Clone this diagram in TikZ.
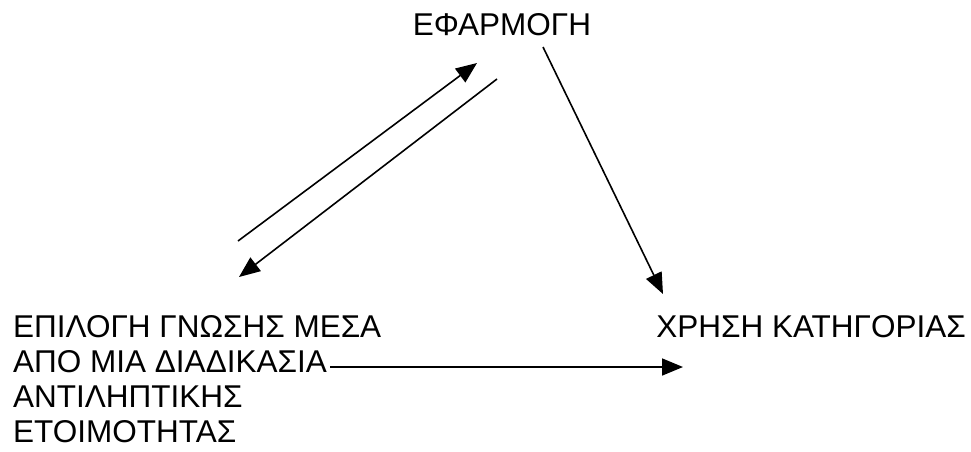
\documentclass[tikz,border=0pt]{standalone}
\usepackage{fontspec}
\setmainfont{Liberation Sans}
\usetikzlibrary{arrows.meta}
\begin{document}
\begin{tikzpicture}[x=1pt,y=-1pt,
  lbl/.style={inner sep=0pt,font=\fontsize{31.5}{35}\selectfont},
  conn/.style={line width=1.6pt,-{Triangle[length=21pt,width=17pt]}}]
\useasboundingbox (0,0) rectangle (971,451);
\node[lbl,anchor=base] (efarm) at (502,35) {ΕΦΑΡΜΟΓΗ};
\node[lbl,anchor=base east] (xrisi) at (966,337) {ΧΡΗΣΗ ΚΑΤΗΓΟΡΙΑΣ};
\node[lbl,anchor=base west] (l1) at (13,337) {ΕΠΙΛΟΓΗ ΓΝΩΣΗΣ ΜΕΣΑ};
\node[lbl,anchor=base west] (l2) at (13,372) {ΑΠΟ ΜΙΑ ΔΙΑΔΙΚΑΣΙΑ};
\node[lbl,anchor=base west] (l3) at (13,407) {ΑΝΤΙΛΗΠΤΙΚΗΣ};
\node[lbl,anchor=base west] (l4) at (13,442) {ΕΤΟΙΜΟΤΗΤΑΣ};
\coordinate (upS) at (238,241);
\coordinate (upE) at (477,63);
\coordinate (dnS) at (497,79);
\coordinate (dnE) at (239,277);
\coordinate (rS) at (543,47);
\coordinate (rE) at (663,294);
\coordinate (hE) at (683,367);
\draw[conn] (upS) -- (upE);
\draw[conn] (dnS) -- (dnE);
\draw[conn] (rS) -- (rE);
\draw[conn] ([xshift=3pt]l2.east |- hE) -- (hE);
\end{tikzpicture}
\end{document}
